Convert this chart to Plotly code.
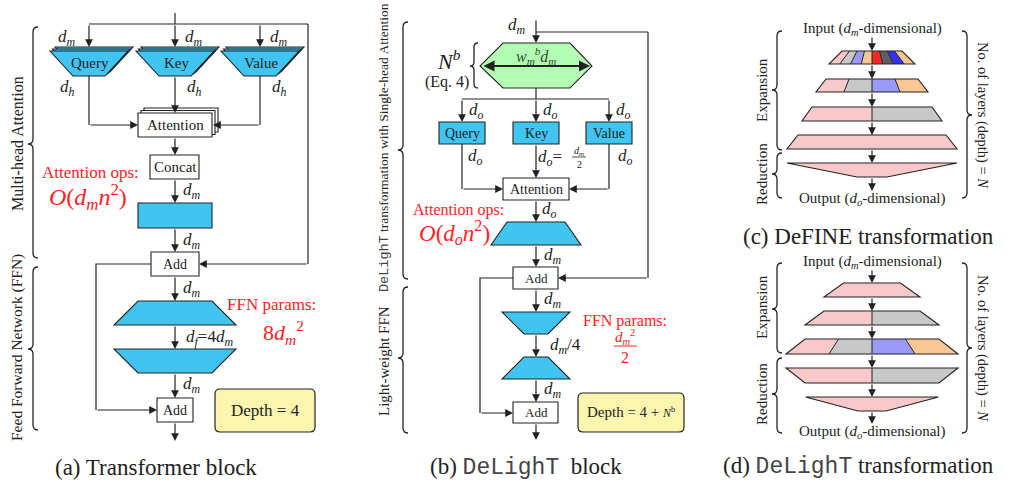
import plotly.graph_objects as go

# ---------------- data (labels, colours) ----------------
QKV_LABELS = ["Query", "Key", "Value"]
MONO_SPAN = "<span style='font-family:Liberation Mono;color:#444444'>DeLighT</span>"
PANEL_CAPTIONS = [
    "(a) Transformer block",
    "(b) " + MONO_SPAN + "  block",
    "(c) DeFINE transformation",
    "(d) " + MONO_SPAN + " transformation",
]
BRACE_LABELS_A = ["Multi-head Attention", "Feed Forward Network (FFN)"]
BRACE_LABELS_B = [MONO_SPAN + " transformation with Single-head Attention", "Light-weight FFN"]
BRACE_LABELS_CD = ["Expansion", "Reduction", "No. of layers (depth) = <i>N</i>"]
DM = "<i>d<sub>m</sub></i>"
DH = "<i>d<sub>h</sub></i>"
DO = "<i>d<sub>o</sub></i>"
DIM_LABELS_A = [DM, DH, DM, DM, DM, "<i>d<sub>f</sub></i>=4<i>d<sub>m</sub></i>", DM]
DIM_LABELS_B = [DM, DO, DO, DM, DM, "<i>d<sub>m</sub></i>/4", DM]
OPS_LABELS = ["Attention ops:", "<i>O</i>(<i>d<sub>m</sub>n</i><sup>2</sup>)", "<i>O</i>(<i>d<sub>o</sub>n</i><sup>2</sup>)"]
FFN_LABELS = ["FFN params:", "8<i>d<sub>m</sub></i><sup>2</sup>", "<i>d<sub>m</sub></i><sup>2</sup>", "2"]
DEPTH_LABELS = ["Depth = 4", "Depth = 4 + <span style='font-size:12px'><i>N</i><sup>b</sup></span>"]
IO_LABELS = ["Input (<i>d<sub>m</sub></i>-dimensional)", "Output (<i>d<sub>o</sub></i>-dimensional)"]

PINK, GRAY, LBLUE, PEACH = "#F9C9C9", "#C8C8C8", "#9B9BF7", "#FAC794"
RED, DGRAY, BLUE = "#F42A2A", "#5F5F5F", "#3131F2"
DEFINE_LAYER_COLORS = [
    [PINK, GRAY, LBLUE, PEACH, RED, DGRAY, BLUE, PEACH],
    [PINK, GRAY, LBLUE, PEACH],
    [PINK, GRAY],
    [PINK],
    [PINK],
]
DELIGHT_LAYER_COLORS = [
    [PINK],
    [PINK, GRAY],
    [PINK, GRAY, LBLUE, PEACH],
    [PINK, GRAY],
    [PINK],
]

# ---------------- style ----------------
INK = "#222222"
CYAN = "#40C4F1"
GREEN = "#B4FDB4"
YELLOW = "#FBF5AE"
REDTXT = "#FF2222"
SERIF = "Times New Roman, Liberation Serif, serif"
W, H = 1011, 484

shapes, annots = [], []


def line(x0, y0, x1, y1, width=1.2, color=INK):
    shapes.append(dict(type="line", x0=x0, y0=y0, x1=x1, y1=y1, xref="x", yref="y",
                       line=dict(color=color, width=width)))


def polyline(pts, width=1.2):
    d = "M " + " L ".join(f"{x},{y}" for x, y in pts)
    shapes.append(dict(type="path", path=d, xref="x", yref="y", line=dict(color=INK, width=width)))


def arrow(x0, y0, x1, y1, both=False, width=1.2, size=1.3):
    annots.append(dict(x=x1, y=y1, ax=x0, ay=y0, xref="x", yref="y", axref="x", ayref="y",
                       text="", showarrow=True, arrowhead=2, startarrowhead=2,
                       arrowside="end+start" if both else "end",
                       arrowsize=size, startarrowsize=size, arrowwidth=width,
                       arrowcolor=INK, standoff=0, startstandoff=0))


def poly(pts, fill, width=1.1):
    d = "M " + " L ".join(f"{x},{y}" for x, y in pts) + " Z"
    shapes.append(dict(type="path", path=d, xref="x", yref="y", fillcolor=fill,
                       line=dict(color=INK, width=width), layer="above"))


def rect(x0, y0, x1, y1, fill="white"):
    poly([(x0, y0), (x1, y0), (x1, y1), (x0, y1)], fill)


def rrect(x0, y0, x1, y1, fill, r=5):
    d = (f"M {x0+r},{y0} L {x1-r},{y0} Q {x1},{y0} {x1},{y0+r} L {x1},{y1-r} Q {x1},{y1} {x1-r},{y1} "
         f"L {x0+r},{y1} Q {x0},{y1} {x0},{y1-r} L {x0},{y0+r} Q {x0},{y0} {x0+r},{y0} Z")
    shapes.append(dict(type="path", path=d, xref="x", yref="y", fillcolor=fill,
                       line=dict(color=INK, width=1.2)))


def trap(cx, ytop, hwt, ybot, hwb, fill):
    poly([(cx - hwt, ytop), (cx + hwt, ytop), (cx + hwb, ybot), (cx - hwb, ybot)], fill)


def txt(x, y, s, size=14, color=INK, family=SERIF, angle=0, xanchor="center"):
    annots.append(dict(x=x, y=y, xref="x", yref="y", text=s, showarrow=False,
                       font=dict(size=size, color=color, family=family), textangle=angle,
                       xanchor=xanchor, yanchor="middle"))


def brace(x, y1, y2, ym, w=5, width=1.3):
    # w>0: tip points left; w<0: tip points right
    d = (f"M {x+w},{y1} Q {x},{y1} {x},{y1+abs(w)} L {x},{ym-abs(w)} Q {x},{ym} {x-w},{ym} "
         f"Q {x},{ym} {x},{ym+abs(w)} L {x},{y2-abs(w)} Q {x},{y2} {x+w},{y2}")
    shapes.append(dict(type="path", path=d, xref="x", yref="y", line=dict(color=INK, width=width)))


DIMSZ = 17

# =============== Panel (a): Transformer block ===============
ax_c = 175
qkv_x = [89, 175, 260]
line(ax_c, 13, ax_c, 24)
line(qkv_x[0], 24, 308, 24)
line(308, 24, 308, 264)
for i, cx in enumerate(qkv_x):
    arrow(cx, 24, cx, 47)
    for off in (2, 1, 0):
        dx, dy = 2.5 * off, -2 * off
        trap(cx + dx, 51 + dy, 39, 76 + dy, 16, CYAN)
    txt(cx + 1, 63, QKV_LABELS[i], 15)
    lx = cx - 22 if i == 0 else cx + 19
    txt(lx, 38, DIM_LABELS_A[0], DIMSZ)
    txt(lx, 88, DIM_LABELS_A[1], DIMSZ)
# lines to attention
polyline([(qkv_x[0], 76), (qkv_x[0], 125)])
arrow(qkv_x[0], 125, 138, 125)
polyline([(qkv_x[2], 76), (qkv_x[2], 125)])
arrow(qkv_x[2], 125, 213, 125)
arrow(ax_c, 76, ax_c, 113)
for off in (2, 1, 0):
    rect(138 + 3 * off, 113 - 2.5 * off, 212 + 3 * off, 137 - 2.5 * off)
txt(ax_c, 125, "Attention", 15)
arrow(ax_c, 137, ax_c, 155)
rect(150, 155, 199, 179)
txt(ax_c, 167, "Concat", 15)
arrow(ax_c, 179, ax_c, 203)
txt(192, 191, DIM_LABELS_A[2], DIMSZ)
rect(138, 203, 212, 228, CYAN)
arrow(ax_c, 228, ax_c, 252)
txt(192, 241, DIM_LABELS_A[3], DIMSZ)
rect(151, 252, 199, 276)
txt(ax_c, 264, "Add", 14)
arrow(308, 264, 199, 264)
polyline([(151, 264), (96, 264), (96, 410)])
arrow(96, 410, 157, 410)
arrow(ax_c, 276, ax_c, 301)
txt(192, 289, DIM_LABELS_A[4], DIMSZ)
trap(ax_c, 301, 37, 325, 61, CYAN)
arrow(ax_c, 325, ax_c, 349)
txt(209, 338, DIM_LABELS_A[5], DIMSZ)
trap(ax_c, 349, 61, 373, 37, CYAN)
arrow(ax_c, 373, ax_c, 398)
txt(192, 385, DIM_LABELS_A[6], DIMSZ)
rect(157, 398, 193, 422)
txt(ax_c, 410, "Add", 14)
arrow(ax_c, 422, ax_c, 441)
txt(90, 172, OPS_LABELS[0], 17, REDTXT)
txt(88, 197, OPS_LABELS[1], 24, REDTXT)
txt(271, 304, FFN_LABELS[0], 17, REDTXT)
txt(283, 332, FFN_LABELS[1], 22, REDTXT)
rrect(215, 389, 315, 432, YELLOW)
txt(265, 410, DEPTH_LABELS[0], 17)
brace(33, 27, 258, 144)
brace(33, 267, 430, 349)
txt(17, 144, BRACE_LABELS_A[0], 16, angle=-90)
txt(17, 348, BRACE_LABELS_A[1], 15.5, angle=-90)

# =============== Panel (b): DeLighT block ===============
bc = 536
txt(517, 26, DIM_LABELS_B[0], DIMSZ)
arrow(bc, 19, bc, 43)
line(bc, 32, 648, 32)
line(648, 32, 648, 278)
poly([(503, 43), (570, 43), (592, 66), (570, 88), (503, 88), (480, 66)], GREEN)
arrow(482, 66, 590, 66, both=True, width=2, size=1.1)
txt(bc, 56, "<i>w</i><sub><i>m</i></sub><sup><i>b</i></sup><i>d<sub>m</sub></i>", 16, "#2E4D2E")
txt(449, 60, "<i>N</i><sup><i>b</i></sup>", 22)
txt(447, 82, "(Eq. 4)", 16)
brace(474, 43, 88, 66, w=4)
line(bc, 88, bc, 99)
line(462, 99, 609, 99)
bq_x = [462, 536, 609]
for i, cx in enumerate(bq_x):
    arrow(cx, 99, cx, 122)
    rect(cx - 23, 122, cx + 23, 144, CYAN)
    txt(cx, 133, QKV_LABELS[i], 14)
    txt(cx + 14, 111, DIM_LABELS_B[1], DIMSZ)
txt(475, 157, DO, DIMSZ)
txt(625, 157, DO, DIMSZ)
txt(550, 158, "<i>d<sub>o</sub></i>=", DIMSZ)
txt(579, 151, "<i>d<sub>m</sub></i>", 10)
line(572, 157, 586, 157, width=0.8)
txt(579, 164, "2", 10)
polyline([(bq_x[0], 144), (bq_x[0], 189)])
arrow(bq_x[0], 189, 503, 189)
polyline([(bq_x[2], 144), (bq_x[2], 189)])
arrow(bq_x[2], 189, 569, 189)
arrow(bc, 144, bc, 178)
rect(503, 178, 569, 200)
txt(bc, 189, "Attention", 14)
arrow(bc, 200, bc, 222)
txt(549, 210, DIM_LABELS_B[2], DIMSZ)
trap(bc, 222, 29, 245, 45, CYAN)
txt(458, 210, OPS_LABELS[0], 16, REDTXT)
txt(454, 232, OPS_LABELS[2], 23, REDTXT)
arrow(bc, 245, bc, 267)
txt(553, 256, DIM_LABELS_B[3], DIMSZ)
rect(513, 267, 558, 289)
txt(bc, 278, "Add", 13)
arrow(648, 278, 558, 278)
polyline([(513, 278), (480, 278), (480, 413)])
arrow(480, 413, 513, 413)
arrow(bc, 289, bc, 312)
txt(553, 300, DIM_LABELS_B[4], DIMSZ)
trap(bc, 312, 34, 334, 12, CYAN)
arrow(bc, 334, bc, 357)
txt(565, 346, DIM_LABELS_B[5], DIMSZ)
trap(bc, 357, 12, 379, 34, CYAN)
arrow(bc, 379, bc, 402)
txt(553, 390, DIM_LABELS_B[6], DIMSZ)
rect(513, 402, 558, 423)
txt(bc, 412, "Add", 13)
arrow(bc, 423, bc, 440)
txt(625, 321, FFN_LABELS[0], 16, REDTXT)
txt(625, 337, FFN_LABELS[2], 15, REDTXT)
line(614, 346, 637, 346, color=REDTXT, width=1)
txt(625, 357, FFN_LABELS[3], 16, REDTXT)
rrect(578, 393, 684, 432, YELLOW)
txt(631, 412, DEPTH_LABELS[1], 15)
brace(403, 22, 279, 150)
brace(403, 287, 433, 358)
txt(384, 148, BRACE_LABELS_B[0], 13.5, angle=-90)
txt(384, 361, BRACE_LABELS_B[1], 15, angle=-90)


# =============== Panels (c), (d) ===============
def layer(cx, ytop, hwt, ybot, hwb, colors):
    n = len(colors)
    xt0, xb0 = cx - hwt, cx - hwb
    st, sb = 2 * hwt / n, 2 * hwb / n
    for k, col in enumerate(colors):
        shapes.append(dict(type="path", xref="x", yref="y", fillcolor=col, line=dict(width=0),
                           path=f"M {xt0+k*st},{ytop} L {xt0+(k+1)*st},{ytop} L {xb0+(k+1)*sb},{ybot} L {xb0+k*sb},{ybot} Z"))
    for k in range(1, n):
        line(xt0 + k * st, ytop, xb0 + k * sb, ybot, width=1)
    poly([(cx - hwt, ytop), (cx + hwt, ytop), (cx + hwb, ybot), (cx - hwb, ybot)], "rgba(0,0,0,0)")


def stack(cx, y_in, y_out, geo, colors):
    txt(cx, y_in, IO_LABELS[0], 15)
    prev = y_in + 7
    for (yt, hwt, yb, hwb), cols in zip(geo, colors):
        arrow(cx, prev, cx, yt)
        layer(cx, yt, hwt, yb, hwb, cols)
        prev = yb
    arrow(cx, prev, cx, y_out - 8)
    txt(cx, y_out, IO_LABELS[1], 15)


cc = 872
geo_c = [(51, 30, 64, 43), (79, 46, 92, 56), (107, 60, 121, 70), (135, 74, 149, 85), (163, 85, 177, 15)]
stack(cc, 29, 199, geo_c, DEFINE_LAYER_COLORS)
brace(777, 31, 150, 90)
brace(777, 153, 198, 174)
brace(967, 31, 198, 115, w=-5)
txt(762, 90, BRACE_LABELS_CD[0], 15, angle=-90)
txt(762, 174, BRACE_LABELS_CD[1], 15, angle=-90)
txt(983, 115, BRACE_LABELS_CD[2], 14.5, angle=90)

geo_d = [(283, 28.5, 297, 48), (311, 48, 325, 67), (339, 67, 354, 86), (368, 86, 383, 67), (397, 66.5, 411, 14)]
stack(cc, 262, 432, geo_d, DELIGHT_LAYER_COLORS)
brace(777, 263, 353, 309)
brace(777, 358, 433, 394)
brace(967, 263, 433, 348, w=-5)
txt(762, 307, BRACE_LABELS_CD[0], 15, angle=-90)
txt(762, 394, BRACE_LABELS_CD[1], 15, angle=-90)
txt(983, 348, BRACE_LABELS_CD[2], 14.5, angle=90)

# captions
txt(156, 467, PANEL_CAPTIONS[0], 23)
txt(526, 467, PANEL_CAPTIONS[1], 23)
txt(868, 236, PANEL_CAPTIONS[2], 23)
txt(858, 466, PANEL_CAPTIONS[3], 23)

fig = go.Figure(go.Scatter(x=[0], y=[0], mode="markers", marker=dict(opacity=0), hoverinfo="skip"))
fig.update_layout(
    width=W, height=H, margin=dict(l=0, r=0, t=0, b=0),
    paper_bgcolor="white", plot_bgcolor="white", showlegend=False,
    xaxis=dict(range=[0, W], visible=False, fixedrange=True),
    yaxis=dict(range=[H, 0], visible=False, fixedrange=True),
    shapes=shapes, annotations=annots,
)
fig.write_html("out.html", config={"displayModeBar": False},
               post_script="document.body.style.margin='0';document.body.style.padding='0';")
